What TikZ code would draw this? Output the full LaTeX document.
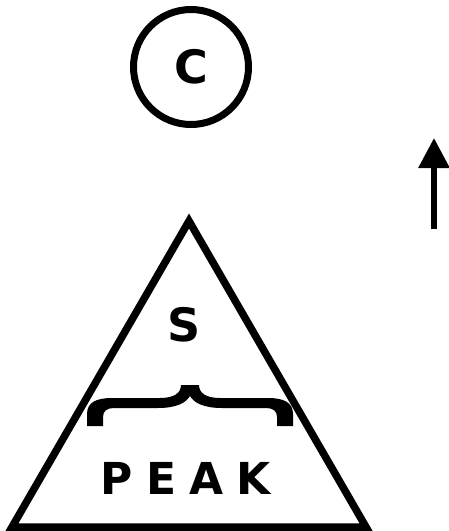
\documentclass[tikz,border=0pt]{standalone}
\usepackage{fontspec}
\newfontfamily\labelfont{DejaVu Sans}
\newfontfamily\peakfont{DejaVu Sans}[LetterSpace=30]
\usetikzlibrary{arrows.meta}
\tikzset{
  ink/.style={line width=7pt, line join=miter, black},
  lbl/.style={font=\labelfont\bfseries\fontsize{46}{52}\selectfont, inner sep=0pt},
}
\begin{document}
\begin{tikzpicture}[x=1pt,y=-1pt]
\useasboundingbox (0,0) rectangle (448,531);
% circle with C
\node[ink, draw, circle, minimum size=115pt, inner sep=0pt, lbl] (c) at (191,67) {C};
% arrow
\coordinate (a0) at (434,229);
\coordinate (a1) at (434,138);
\draw[line width=6pt, -{Triangle[length=30pt,width=30pt]}] (a0) -- (a1);
% triangle
\coordinate (tA) at (189,221);
\coordinate (tL) at (12,527);
\coordinate (tR) at (366,527);
\draw[ink, line width=7.5pt] (tA) -- (tL) -- (tR) -- cycle;
% S
\node[lbl] (s) at (184,325) {S};
% brace
\fill[black] (87,426) -- (87,414) .. controls (87,402) and (97,398) .. (112,398)
  -- (160,398) .. controls (174,398) and (181,393) .. (181,385)
  -- (199,385) .. controls (199,393) and (206,398) .. (220,398)
  -- (268,398) .. controls (283,398) and (293,402) .. (293,414)
  -- (293,426) -- (277,426) -- (277,417) .. controls (277,411) and (273,408) .. (266,408)
  -- (222,408) .. controls (204,408) and (194,403) .. (190,396)
  .. controls (186,403) and (176,408) .. (158,408)
  -- (114,408) .. controls (107,408) and (103,411) .. (103,417)
  -- (103,426) -- cycle;
% PEAK
\node[inner sep=0pt, font=\peakfont\bfseries\fontsize{44}{50}\selectfont] (peak) at (186,478) {PEAK};
\end{tikzpicture}
\end{document}
